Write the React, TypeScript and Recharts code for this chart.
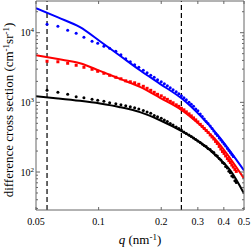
import { ComposedChart, Line, Scatter, XAxis, YAxis, ReferenceLine } from "recharts";

// measured q points (nm^-1)
const qData = [
  0.0565, 0.0637, 0.071, 0.078, 0.085, 0.093, 0.099, 0.106, 0.113, 0.121,
  0.128, 0.135, 0.142, 0.149, 0.156, 0.164, 0.171, 0.178, 0.185, 0.192,
  0.2, 0.207, 0.214, 0.221, 0.228, 0.236, 0.243, 0.25, 0.257, 0.264,
  0.272, 0.279, 0.286, 0.293, 0.3, 0.308, 0.315, 0.322, 0.329, 0.336,
  0.344, 0.351, 0.358, 0.365, 0.372, 0.38, 0.387, 0.394, 0.401, 0.408,
  0.416, 0.423, 0.43, 0.437, 0.444, 0.452, 0.459,
];

const blueMeasured = [
  13250, 12410, 10860, 9835, 8616, 7545, 7062, 6393, 5984, 5418,
  4825, 4225, 3825, 3464, 3188, 2887, 2658, 2446, 2289, 2107,
  1972, 1846, 1728, 1617, 1513, 1416, 1325, 1240, 1161, 1086,
  1000, 936, 876, 806, 755, 683, 629, 579, 533, 499,
  459, 422, 389, 358, 335, 308, 289, 270, 253, 237,
  218, 204, 191, 179, 167,
];

const redMeasured = [
  3890, 3825, 3640, 3408, 3188, 2985, 2793, 2614, 2446, 2289,
  2178, 2038, 1972, 1908, 1816, 1699, 1590, 1488, 1393, 1303,
  1240, 1161, 1104, 1034, 984, 921, 876, 820, 780, 730,
  683, 639, 598, 560, 524, 483, 452, 422, 395, 370,
  341, 319, 298, 275, 257, 233, 214, 197, 185, 170,
  156, 146, 137, 126, 118, 109, 102,
];

const blackMeasured = [
  1488, 1393, 1303, 1200, 1161, 1104, 1069, 1034, 984, 952,
  921, 891, 862, 834, 806, 767, 730, 695, 650, 619,
  589, 560, 533, 499, 475, 444, 422, 402, 376, 358,
  341, 324, 308, 293, 279, 266, 253, 241, 233, 218,
  211, 197, 191, 176, 170, 156, 149, 137, 133, 120,
  114, 103, 98, 88, 85, 75, 71,
];

// model curves
const fitQ = [0.05, 0.0638, 0.0814, 0.1015, 0.1267, 0.158, 0.1973, 0.252, 0.307, 0.375, 0.433, 0.5];
const blueFit = [22520, 16550, 12000, 7545, 4668, 2887, 1846, 1123, 650, 335, 191, 105];
const redFit = [4746, 4183, 3640, 2830, 2171, 1666, 1161, 767, 475, 266, 151, 81];
const blackFit = [1220, 1138, 1051, 961, 853, 723, 554, 383, 266, 162, 102, 49];

const cutoffs = [0.0565, 0.25];

const xTicks = [0.05, 0.1, 0.2, 0.3, 0.4, 0.5];
const yTicks = [
  30, 40, 50, 60, 70, 80, 90, 100, 200, 300, 400, 500, 600, 700, 800, 900,
  1000, 2000, 3000, 4000, 5000, 6000, 7000, 8000, 9000, 10000, 20000,
];

const toPts = (qs: number[], vs: number[]) => vs.map((v, i) => ({ q: qs[i], v }));

const FONT = "Liberation Serif";
const AXIS = "#666";
const Y_DOMAIN = [28.5, 28500];

const isMajor = (v: number) => Math.abs(Math.log10(v) - Math.round(Math.log10(v))) < 1e-6;

function LeftTick(props: any) {
  const { x, y, payload } = props;
  const major = isMajor(payload.value);
  const exp = Math.round(Math.log10(payload.value));
  return (
    <g>
      <line x1={x} x2={x + (major ? 4 : 2)} y1={y} y2={y} stroke={AXIS} />
      {major && (
        <text x={x - 2} y={y + 3.5} textAnchor="end" fontSize={10} fontFamily={FONT} fill="#000">
          10<tspan dy={-4} fontSize={7}>{exp}</tspan>
        </text>
      )}
    </g>
  );
}

function RightTick(props: any) {
  const { x, y, payload } = props;
  const major = isMajor(payload.value);
  return <line x1={x - (major ? 4 : 2)} x2={x} y1={y} y2={y} stroke={AXIS} />;
}

function BottomTick(props: any) {
  const { x, y, payload } = props;
  return (
    <g>
      <line x1={x} x2={x} y1={y - 3} y2={y} stroke={AXIS} />
      <text x={x} y={y + 15} textAnchor="middle" fontSize={10} fontFamily={FONT} fill="#000">
        {payload.value}
      </text>
    </g>
  );
}

function TopTick(props: any) {
  const { x, y } = props;
  return <line x1={x} x2={x} y1={y} y2={y + 3} stroke={AXIS} />;
}

const dot = (color: string) => (p: any) => <circle cx={p.cx} cy={p.cy} r={1.5} fill={color} />;
const square = (color: string) => (p: any) => (
  <rect x={p.cx - 1.5} y={p.cy - 1.5} width={3} height={3} fill={color} />
);

export default function App() {
  return (
    <div style={{ position: "absolute", left: 0, top: 0, width: 252, height: 249 }}>
      <ComposedChart width={252} height={249} margin={{ top: 0, right: 0, bottom: 0, left: 0 }}>
        <XAxis
          dataKey="q"
          type="number"
          scale="log"
          domain={[0.05, 0.5]}
          ticks={xTicks}
          allowDataOverflow
          height={39}
          tickSize={0}
          tickMargin={0}
          tickLine={false}
          stroke={AXIS}
          tick={BottomTick}
          interval={0}
        />
        <XAxis
          xAxisId="t"
          orientation="top"
          dataKey="q"
          type="number"
          scale="log"
          domain={[0.05, 0.5]}
          ticks={xTicks}
          allowDataOverflow
          height={1}
          tickSize={0}
          tickMargin={0}
          tickLine={false}
          stroke={AXIS}
          tick={TopTick}
          interval={0}
        />
        <YAxis
          dataKey="v"
          type="number"
          scale="log"
          domain={Y_DOMAIN}
          ticks={yTicks}
          allowDataOverflow
          width={36}
          tickSize={0}
          tickMargin={0}
          tickLine={false}
          stroke={AXIS}
          tick={LeftTick}
          interval={0}
        />
        <YAxis
          yAxisId="r"
          orientation="right"
          dataKey="v"
          type="number"
          scale="log"
          domain={Y_DOMAIN}
          ticks={yTicks}
          allowDataOverflow
          width={8}
          tickSize={0}
          tickMargin={0}
          tickLine={false}
          stroke={AXIS}
          tick={RightTick}
          interval={0}
        />
        {cutoffs.map((c) => (
          <ReferenceLine key={c} x={c} stroke="#000" strokeWidth={1.2} strokeDasharray="5 3" />
        ))}
        <Scatter data={toPts(qData, blueMeasured)} fill="#0000ff" shape={dot("#0000ff")} isAnimationActive={false} />
        <Scatter data={toPts(qData, redMeasured)} fill="#ff0000" shape={square("#ff0000")} isAnimationActive={false} />
        <Scatter data={toPts(qData, blackMeasured)} fill="#000" shape={dot("#000")} isAnimationActive={false} />
        <Line data={toPts(fitQ, blueFit)} dataKey="v" type="monotone" stroke="#0000ff" strokeWidth={2} dot={false} isAnimationActive={false} />
        <Line data={toPts(fitQ, redFit)} dataKey="v" type="monotone" stroke="#ff0000" strokeWidth={2} dot={false} isAnimationActive={false} />
        <Line data={toPts(fitQ, blackFit)} dataKey="v" type="monotone" stroke="#000" strokeWidth={2} dot={false} isAnimationActive={false} />
      </ComposedChart>
      <svg
        width={252}
        height={249}
        style={{ position: "absolute", left: 0, top: 0, pointerEvents: "none" }}
        fontFamily={FONT}
      >
        <text transform="translate(12.5,110) rotate(-90)" textAnchor="middle" fontSize={13} fill="#000">
          difference cross section (cm<tspan dy={-4} fontSize={9}>-1</tspan>
          <tspan dy={4}>sr</tspan>
          <tspan dy={-4} fontSize={9}>-1</tspan>
          <tspan dy={4}>)</tspan>
        </text>
        <text x={140} y={244} textAnchor="middle" fontSize={13} fill="#000">
          <tspan fontStyle="italic">q</tspan> (nm<tspan dy={-4} fontSize={9}>-1</tspan>
          <tspan dy={4}>)</tspan>
        </text>
      </svg>
    </div>
  );
}
